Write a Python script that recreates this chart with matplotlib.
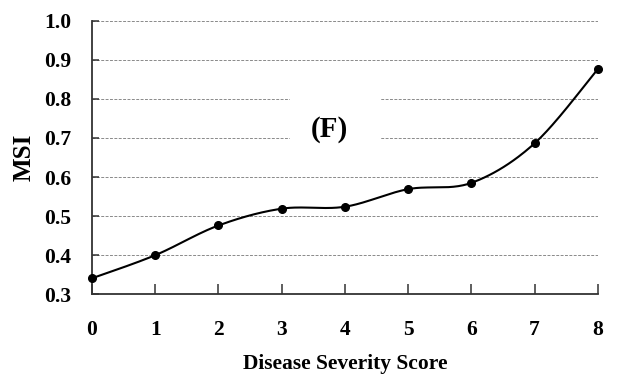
import numpy as np
import matplotlib
matplotlib.use("Agg")
import matplotlib.pyplot as plt

# Mean MSI per disease severity score
severity = [0, 1, 2, 3, 4, 5, 6, 7, 8]
msi = [0.341, 0.400, 0.476, 0.519, 0.524, 0.569, 0.585, 0.686, 0.876]
y_ticks = [0.3, 0.4, 0.5, 0.6, 0.7, 0.8, 0.9, 1.0]


def smooth_curve(x, y, n=40):
    """Cardinal (Catmull-Rom style) Bezier smoothing through every point."""
    x = np.asarray(x, float)
    y = np.asarray(y, float)
    pts = np.column_stack([x, y])
    out = []
    for i in range(len(pts) - 1):
        p0 = pts[i - 1] if i > 0 else pts[i]
        p1 = pts[i]
        p2 = pts[i + 1]
        p3 = pts[i + 2] if i + 2 < len(pts) else pts[i + 1]
        c1 = p1 + (p2 - p0) / 6.0
        c2 = p2 - (p3 - p1) / 6.0
        t = np.linspace(0, 1, n)[:, None]
        seg = ((1 - t) ** 3) * p1 + 3 * ((1 - t) ** 2) * t * c1 \
            + 3 * (1 - t) * t ** 2 * c2 + t ** 3 * p2
        out.append(seg if i == 0 else seg[1:])
    seg = np.vstack(out)
    return seg[:, 0], seg[:, 1]


plt.rcParams['font.family'] = ['Liberation Serif', 'DejaVu Serif']
plt.rcParams['font.weight'] = 'bold'

fig = plt.figure(figsize=(6.22, 3.81), dpi=100)
ax = fig.add_axes([0.1479, 0.2276, 0.9610 - 0.1479, 0.9457 - 0.2276])

ax.set_xlim(0, 8)
ax.set_ylim(0.3, 1.0)

# Horizontal dashed gridlines
for v in y_ticks[1:]:
    ax.axhline(v, color='#8a8a8a', lw=0.7, ls=(0, (3, 1.5)), zorder=1)

sx, sy = smooth_curve(severity, msi)
ax.plot(sx, sy, color='black', lw=1.5, zorder=3, clip_on=False)
ax.plot(severity, msi, 'o', color='black', ms=5.5, zorder=4, clip_on=False)

# Panel label on a white patch that interrupts the gridlines
x0, x1 = (290 - 92) / 63.2, (381 - 92) / 63.2
ax.axhspan(0.695, 0.805, xmin=x0 / 8, xmax=x1 / 8, facecolor='white',
           edgecolor='none', zorder=1.5)
ax.text(3.75, 0.722, '(F)', fontsize=21, fontweight='bold',
        ha='center', va='center', zorder=2)

for s in ['top', 'right']:
    ax.spines[s].set_visible(False)
for s in ['left', 'bottom']:
    ax.spines[s].set_color('#333333')
    ax.spines[s].set_linewidth(1.3)

ax.set_xticks(severity)
ax.set_yticks(y_ticks)
ax.set_yticklabels([f'{v:.1f}' for v in y_ticks])
ax.tick_params(axis='x', direction='in', length=7, width=1.1, color='#333333',
               pad=18.5, labelsize=15.5)
ax.tick_params(axis='y', direction='in', length=5, width=1.1, color='#333333',
               pad=15, labelsize=15.5)
for lab in ax.get_xticklabels() + ax.get_yticklabels():
    lab.set_fontweight('bold')

ax.set_xlabel('Disease Severity Score', fontsize=15.5, fontweight='bold',
              labelpad=10)
ax.set_ylabel('MSI', fontsize=18, fontweight='bold', labelpad=6)

fig.savefig('out.png', dpi=100)
